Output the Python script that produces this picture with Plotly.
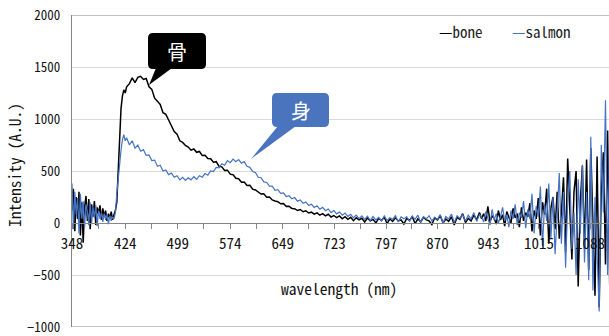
import plotly.graph_objects as go

# ---------------- data ----------------
wavelength_nm = [
    348, 350, 352, 354, 356, 358, 360, 362, 364, 366, 368, 370, 372, 374, 376, 378,
    380, 382, 384, 386, 388, 390, 392, 394, 396, 398, 400, 402, 404, 406, 408, 410,
    412, 414, 416, 418, 420, 422, 424,
    426, 430, 434, 438, 442, 446, 450, 454, 458, 462, 466, 470, 474, 478, 482, 486,
    490, 494, 498, 502, 506, 510, 514, 518, 522, 526, 530, 534, 538, 542, 546, 550,
    554, 558, 562, 566, 570, 574, 578, 582, 586, 590, 594, 598, 602, 606, 610, 614,
    618, 622, 626, 630, 634, 638, 642, 646, 650, 654, 658, 662, 666, 670, 674, 678,
    682, 686, 690, 694, 698, 702, 706, 710, 714, 718, 722, 726, 730, 734, 738, 742,
    746, 750, 754, 758, 762, 766, 770, 774, 778, 782, 786, 790, 794, 798, 802, 806,
    810, 814, 818, 822, 826, 830, 834, 838, 842, 846, 850, 854, 858, 862, 866, 870,
    874, 878, 882, 886, 890, 894, 898, 902, 906, 910, 914, 918, 922, 926, 930,
    933, 936, 939, 942, 945, 948, 951, 954, 957, 960, 963, 966, 969, 972, 975, 978,
    981, 984, 987, 990, 993, 996, 999, 1002, 1005, 1008, 1011, 1014, 1017, 1020, 1023,
    1026, 1029, 1032, 1035, 1038, 1041, 1044, 1047, 1050, 1053, 1056, 1059, 1062, 1065,
    1068, 1071, 1074, 1077, 1080, 1083, 1086, 1089, 1092, 1095, 1098, 1101, 1104, 1107,
    1110, 1113, 1116,
]

bone = [
    120, 330, -80, 250, 40, 300, -120, 200, -190, 150, 260, 20, 230, -60, 180, 60,
    210, -20, 150, 90, 170, 30, 140, 60, 120, 20, 90, 50, 110, 30, 80, 120,
    200, 500, 850, 1100, 1220, 1280, 1250,
    1310, 1340, 1395, 1350, 1400, 1410, 1380, 1390, 1310, 1285, 1200, 1170, 1140, 1060, 1045, 990,
    935, 880, 855, 790, 775, 745, 730, 700, 712, 680, 688, 650, 652, 620, 618, 585,
    590, 545, 540, 505, 508, 470, 465, 430, 425, 392, 395, 360, 362, 325, 318, 300,
    278, 280, 248, 250, 222, 212, 205, 185, 188, 160, 162, 140, 138, 120, 130, 108,
    118, 96, 104, 85, 98, 75, 90, 68, 84, 58, 72, 52, 68, 40, 60, 35,
    55, 22, 50, 30, 45, 10, 48, 20, 35, 0, 45, 25, 55, -5, 40, 15,
    50, 20, 30, -10, 45, 25, 60, -5, 40, 10, 55, 30, 20, -15, 50, 30,
    70, 0, 40, 15, 60, -20, 55, 35, 90, 5, 45, 20, 75, 30, 100,
    40, 90, 20, 160, 10, 70, 45, -10, 120, 30, 80, -30, 110, 60, 0, 140,
    50, 90, -40, 150, 20, 100, 60, 190, -80, 120, 40, 240, -120, 200, 80,
    330, -200, 140, 250, -60, 300, -150, 100, 440, -280, 620, 50, -350, 300,
    500, -610, 200, 550, -250, 610, -450, 720, 100, -700, 640, -810, 350, 680,
    -400, 890, -600,
]

salmon = [
    380, -60, 300, 80, 240, -100, 280, 40, 210, -40, 180, 110, -20, 200, 0, 150,
    50, 170, -30, 120, 40, 100, 10, 90, 30, 80, -10, 70, 20, 60, 40, 100,
    280, 450, 600, 700, 800, 850, 790,
    820, 750, 790, 720, 750, 690, 705, 650, 655, 600, 605, 545, 555, 500, 510, 465,
    480, 440, 455, 415, 440, 410, 435, 415, 445, 420, 455, 440, 475, 460, 500, 495,
    535, 530, 570, 555, 600, 580, 615, 590, 610, 575, 590, 545, 535, 495, 485, 440,
    435, 395, 390, 355, 355, 315, 320, 285, 290, 255, 262, 232, 245, 210, 222, 190,
    202, 168, 180, 150, 165, 132, 150, 118, 135, 100, 120, 88, 106, 75, 95, 64,
    84, 50, 76, 42, 68, 35, 65, 25, 62, 30, 55, 20, 68, 25, 50, 35,
    70, 10, 58, 40, 62, 15, 66, 35, 75, 5, 60, 40, 70, 20, 55, 35,
    80, 0, 62, 40, 85, 5, 70, 45, 80, 20, 75, 40, 100, 15, 80,
    60, 10, 110, 50, -20, 130, 30, 90, 0, 60, 150, 20, 80, -40, 120, 40,
    180, -20, 100, 50, 210, -50, 130, 40, 280, -100, 160, 60, 350, -220, 180,
    20, 380, -150, 250, -300, 120, 480, -200, 300, -430, 200, 500, -250, 100,
    -500, 420, -100, 560, -380, 300, -550, 830, -650, 250, -400, -850, 750, 100,
    1180, -500, 850,
]

series_names = ["bone", "salmon"]
series_colors = ["#000000", "#4472C4"]

x_tick_labels = [348, 424, 499, 574, 649, 723, 797, 870, 943, 1015, 1088]
x_minor_ticks = [386, 461.5, 536.5, 611.5, 686, 760, 833.5, 906.5, 979, 1051.5]
y_ticks = [-1000, -500, 0, 500, 1000, 1500, 2000]

assert len(wavelength_nm) == len(bone) == len(salmon)

# ---------------- figure ----------------
W, H = 609, 336
ML, MR, MT, MB = 72, 0, 15, 9
PW, PH = W - ML - MR, H - MT - MB

def pxx(x):
    return (x - ML) / PW

def pxy(y):
    return (H - MB - y) / PH

MONO = "Noto Sans Mono CJK JP, DejaVu Sans Mono, monospace"
CJK = "Noto Sans CJK JP, Noto Sans, sans-serif"
AXIS_GRAY = "#868686"

fig = go.Figure()
fig.add_trace(go.Scatter(x=wavelength_nm, y=bone, mode="lines", name=series_names[0],
                         line=dict(color=series_colors[0], width=1.5)))
fig.add_trace(go.Scatter(x=wavelength_nm, y=salmon, mode="lines", name=series_names[1],
                         line=dict(color=series_colors[1], width=1.2)))


def rounded_rect(x0, y0, x1, y1, r):
    rx = r / PW
    ry = r / PH
    X0, X1 = pxx(x0), pxx(x1)
    Y0, Y1 = pxy(y1), pxy(y0)
    return (f"M {X0+rx},{Y1} L {X1-rx},{Y1} Q {X1},{Y1} {X1},{Y1-ry} "
            f"L {X1},{Y0+ry} Q {X1},{Y0} {X1-rx},{Y0} L {X0+rx},{Y0} "
            f"Q {X0},{Y0} {X0},{Y0+ry} L {X0},{Y1-ry} Q {X0},{Y1} {X0+rx},{Y1} Z")


def tri(p1, p2, p3):
    return (f"M {pxx(p1[0])},{pxy(p1[1])} L {pxx(p2[0])},{pxy(p2[1])} "
            f"L {pxx(p3[0])},{pxy(p3[1])} Z")


shapes = [
    dict(type="line", xref="paper", yref="y", x0=0, x1=1, y0=2000, y1=2000,
         line=dict(color=AXIS_GRAY, width=1.2), layer="above"),
    dict(type="line", xref="paper", yref="y", x0=0, x1=1, y0=-1000, y1=-1000,
         line=dict(color=AXIS_GRAY, width=1.2), layer="above"),
    dict(type="path", xref="paper", yref="paper", path=rounded_rect(148, 33, 206, 69, 5),
         fillcolor="#000000", line=dict(width=0), layer="above"),
    dict(type="path", xref="paper", yref="paper", path=tri((156, 68), (172, 68), (149, 85)),
         fillcolor="#000000", line=dict(width=0), layer="above"),
    dict(type="path", xref="paper", yref="paper", path=rounded_rect(272, 93, 329, 127, 5),
         fillcolor="#4a74bd", line=dict(width=0), layer="above"),
    dict(type="path", xref="paper", yref="paper", path=tri((278, 126), (296, 126), (251, 159)),
         fillcolor="#4a74bd", line=dict(width=0), layer="above"),
]

annotations = [
    dict(text="骨", xref="paper", yref="paper", x=pxx(177), y=pxy(51), showarrow=False,
         font=dict(family=CJK, size=20, color="white"), xanchor="center", yanchor="middle"),
    dict(text="身", xref="paper", yref="paper", x=pxx(300.5), y=pxy(110), showarrow=False,
         font=dict(family=CJK, size=20, color="white"), xanchor="center", yanchor="middle"),
    dict(text=f"<span style='color:{series_colors[0]}'>—</span>{series_names[0]}",
         xref="paper", yref="paper", x=pxx(437), y=pxy(31), showarrow=False,
         xanchor="left", yanchor="middle", font=dict(family=MONO, size=15, color="#222222")),
    dict(text=f"<span style='color:{series_colors[1]}'>—</span>{series_names[1]}",
         xref="paper", yref="paper", x=pxx(510), y=pxy(31), showarrow=False,
         xanchor="left", yanchor="middle", font=dict(family=MONO, size=15, color="#222222")),
    dict(text="wavelength (nm)", xref="paper", yref="paper", x=pxx(339), y=pxy(288),
         showarrow=False, xanchor="center", yanchor="middle",
         font=dict(family=MONO, size=15.5, color="#111111")),
    dict(text="Intensity (A.U.)", xref="paper", yref="paper", x=pxx(14), y=pxy(165),
         showarrow=False, xanchor="center", yanchor="middle", textangle=-90,
         font=dict(family=MONO, size=15.5, color="#111111")),
]

fig.update_layout(
    width=W, height=H,
    margin=dict(l=ML, r=MR, t=MT, b=MB, pad=0),
    paper_bgcolor="white", plot_bgcolor="white",
    showlegend=False,
    shapes=shapes,
    annotations=annotations,
    xaxis=dict(
        range=[348, 1115], tickmode="array", tickvals=x_tick_labels,
        ticktext=[str(v) for v in x_tick_labels],
        anchor="free", position=1 / 3,
        showgrid=False, zeroline=False, showline=True, linecolor=AXIS_GRAY, linewidth=1.2,
        ticks="outside", ticklen=5, tickcolor=AXIS_GRAY, tickwidth=1,
        minor=dict(tickvals=x_minor_ticks, ticks="outside", ticklen=5, tickcolor=AXIS_GRAY),
        tickfont=dict(family=MONO, size=15, color="#111111"),
        ticklabelstandoff=2,
    ),
    yaxis=dict(
        range=[-1000, 2000], tickmode="array", tickvals=y_ticks,
        showgrid=True, gridcolor="#d9d9d9", gridwidth=1,
        zeroline=False, showline=True, linecolor=AXIS_GRAY, linewidth=1.2,
        ticks="", tickfont=dict(family=MONO, size=13, color="#111111"),
        ticklabelstandoff=8,
    ),
)

fig.write_html("out.html")
